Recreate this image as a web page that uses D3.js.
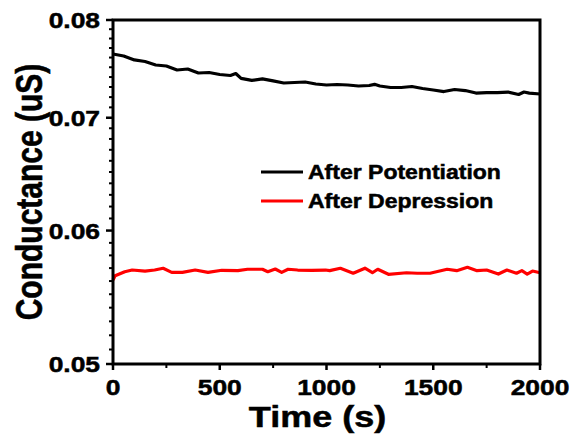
<!DOCTYPE html>
<html>
<head>
<meta charset="utf-8">
<script src="https://cdn.jsdelivr.net/npm/d3@7"></script>
<style>
  body { margin: 0; background: #fff; }
  svg { display: block; }
  text { font-family: "Liberation Sans", Arial, sans-serif; font-weight: bold; fill: #000; stroke: #000; stroke-width: 0.5px; }
</style>
</head>
<body>
<div id="chart"></div>
<script>
// data
const blackTime = [0,50,100,150,200,250,300,350,400,450,500,550,575,600,650,700,750,800,850,900,950,1000,1050,1100,1150,1200,1225,1250,1300,1350,1400,1450,1500,1550,1600,1650,1700,1750,1800,1850,1900,1925,1950,2000];
const blackCond = [0.07637,0.07616,0.07575,0.07559,0.07523,0.07513,0.07472,0.07482,0.07441,0.07446,0.07426,0.07416,0.07436,0.07386,0.07366,0.07381,0.07361,0.07340,0.07345,0.07350,0.07330,0.07320,0.07325,0.07320,0.07310,0.07315,0.07327,0.07310,0.07295,0.07295,0.07305,0.07285,0.07270,0.07255,0.07275,0.07265,0.07240,0.07245,0.07245,0.07250,0.07226,0.07250,0.07240,0.07231];
const redTime = [0,10,55,90,150,195,235,275,325,385,445,510,585,630,700,725,760,790,820,865,930,995,1015,1065,1125,1180,1215,1240,1290,1375,1425,1485,1565,1610,1660,1705,1750,1805,1845,1890,1915,1940,1965,2000];
const redCond = [0.05608,0.05641,0.05672,0.05685,0.05677,0.05685,0.05699,0.05667,0.05667,0.05685,0.05667,0.05683,0.05680,0.05691,0.05691,0.05672,0.05693,0.05667,0.05691,0.05685,0.05683,0.05685,0.05680,0.05699,0.05660,0.05699,0.05664,0.05691,0.05652,0.05664,0.05660,0.05660,0.05691,0.05680,0.05706,0.05680,0.05685,0.05654,0.05685,0.05660,0.05680,0.05654,0.05677,0.05664];
const seriesNames = ["After Potentiation", "After Depression"];
const seriesColors = ["#000000", "#ff0000"];
const xTicks = [0, 500, 1000, 1500, 2000];
const xMinor = [250, 750, 1250, 1750];
const yTicks = [0.05, 0.06, 0.07, 0.08];
const yMinor = d3.range(51, 80).filter(d => d % 10 !== 0).map(d => d / 1000);

// sizes
const W = 576, H = 438;
const margin = { top: 20, right: 36, bottom: 74, left: 113 };
const width = W - margin.left - margin.right;
const height = H - margin.top - margin.bottom;
const sx = 1.2; // the picture's text is wider than normal

const x = d3.scaleLinear().domain([0, 2000]).range([0, width]);
const y = d3.scaleLog().domain([0.05, 0.08]).range([height, 0]);

const svg = d3.select("#chart").append("svg")
  .attr("width", W).attr("height", H);
const g = svg.append("g").attr("transform", `translate(${margin.left},${margin.top})`);

// lines
const line = d3.line().x(d => x(d[0])).y(d => y(d[1]));
const series = [
  d3.zip(blackTime, blackCond),
  d3.zip(redTime, redCond)
];
series.forEach((s, i) => {
  g.append("path").datum(s)
    .attr("fill", "none")
    .attr("stroke", seriesColors[i])
    .attr("stroke-width", 3.2)
    .attr("stroke-linejoin", "round")
    .attr("d", line);
});

// ticks: major outward 6px, minor 3px
g.selectAll(".xt").data(xTicks).join("line")
  .attr("x1", d => x(d)).attr("x2", d => x(d))
  .attr("y1", height).attr("y2", height + 6)
  .attr("stroke", "#000").attr("stroke-width", 2.5);
g.selectAll(".xm").data(xMinor).join("line")
  .attr("x1", d => x(d)).attr("x2", d => x(d))
  .attr("y1", height).attr("y2", height + 4)
  .attr("stroke", "#000").attr("stroke-width", 2);
g.selectAll(".yt").data(yTicks).join("line")
  .attr("x1", -7).attr("x2", 0)
  .attr("y1", d => y(d)).attr("y2", d => y(d))
  .attr("stroke", "#000").attr("stroke-width", 2.5);
g.selectAll(".ym").data(yMinor).join("line")
  .attr("x1", -4).attr("x2", 0)
  .attr("y1", d => y(d)).attr("y2", d => y(d))
  .attr("stroke", "#000").attr("stroke-width", 2);

// frame
g.append("rect")
  .attr("x", 0).attr("y", 0)
  .attr("width", width).attr("height", height)
  .attr("fill", "none").attr("stroke", "#000").attr("stroke-width", 3);

// tick labels
g.selectAll(".xl").data(xTicks).join("text")
  .attr("transform", d => `translate(${x(d)},${height + 31}) scale(${sx},1)`)
  .attr("text-anchor", "middle")
  .style("font-size", "22px")
  .text(d => d);
g.selectAll(".yl").data(yTicks).join("text")
  .attr("transform", d => `translate(-13,${y(d) + 8}) scale(${sx},1)`)
  .attr("text-anchor", "end")
  .style("font-size", "22px")
  .text(d => d3.format(".2f")(d));

// axis titles
g.append("text")
  .attr("transform", `translate(${width / 2 - 9},${height + 63}) scale(${sx},1)`)
  .attr("text-anchor", "middle")
  .style("font-size", "30px")
  .text("Time (s)");
g.append("text")
  .attr("transform", `translate(${42 - margin.left},${height / 2}) rotate(-90) scale(1,${sx})`)
  .attr("text-anchor", "middle")
  .style("font-size", "30px")
  .text("Conductance (uS)");

// legend
const legend = svg.append("g");
seriesNames.forEach((name, i) => {
  const ly = 172 + i * 29;
  legend.append("line")
    .attr("x1", 261).attr("x2", 303)
    .attr("y1", ly).attr("y2", ly)
    .attr("stroke", seriesColors[i]).attr("stroke-width", 3);
  legend.append("text")
    .attr("transform", `translate(308,${ly + 6.5}) scale(1.18,1)`)
    .style("font-size", "19.5px")
    .text(name);
});
</script>
</body>
</html>
